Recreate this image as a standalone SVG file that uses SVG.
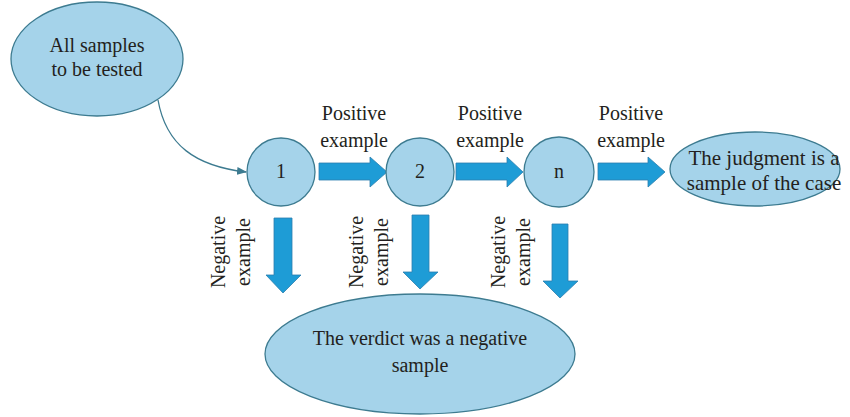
<svg xmlns="http://www.w3.org/2000/svg" width="850" height="417" viewBox="0 0 850 417">
<style>
.node{fill:#a5d3ea;stroke:#3d7b90;stroke-width:1.3}
.blk{fill:#1e9cd6;stroke:#2b7fae;stroke-width:0.8}
text{font-family:"Liberation Serif","Times New Roman",serif;font-size:20px;fill:#231f20}
.c{text-anchor:middle}
</style>
<defs>
<marker id="ah" markerWidth="10" markerHeight="10" refX="9" refY="5" orient="auto" markerUnits="userSpaceOnUse">
<path d="M0,1 L10,5 L0,9 z" fill="#3d7b90"/>
</marker>
</defs>
<rect width="850" height="417" fill="#ffffff"/>
<g id="connectors">
<path d="M158,100 C166,145 195,166 246,172" fill="none" stroke="#3d7b90" stroke-width="1.3" marker-end="url(#ah)"/>
<path class="blk" d="M319,163 H370 V157 L387,172 L370,187 V180 H319 Z"/>
<path class="blk" d="M456,163 H507 V157 L523,172 L507,187 V180 H456 Z"/>
<path class="blk" d="M598,163 H648 V157 L665,172 L648,187 V180 H598 Z"/>
<path class="blk" d="M274,218 H292 V275 H301 L283,293 L266,275 H274 Z"/>
<path class="blk" d="M412,215 H429 V272 H438 L420,289 L403,272 H412 Z"/>
<path class="blk" d="M552,224 H568 V281 H578 L560,298 L543,281 H552 Z"/>
<text class="c" x="354" y="120">Positive</text>
<text class="c" x="354" y="147">example</text>
<text class="c" x="490" y="120">Positive</text>
<text class="c" x="490" y="147">example</text>
<text class="c" x="631" y="120">Positive</text>
<text class="c" x="631" y="147">example</text>
<text class="c" transform="translate(225,252) rotate(-90)">Negative</text>
<text class="c" transform="translate(250,252) rotate(-90)">example</text>
<text class="c" transform="translate(363,252) rotate(-90)">Negative</text>
<text class="c" transform="translate(388,252) rotate(-90)">example</text>
<text class="c" transform="translate(505,252) rotate(-90)">Negative</text>
<text class="c" transform="translate(530,252) rotate(-90)">example</text>
</g>
<g id="start">
<ellipse class="node" cx="97" cy="59" rx="86" ry="57"/>
<text class="c" x="97" y="52">All samples</text>
<text class="c" x="97" y="76">to be tested</text>
</g>
<g id="n1">
<circle class="node" cx="281" cy="172" r="34"/>
<text class="c" x="281" y="178">1</text>
</g>
<g id="n2">
<circle class="node" cx="420" cy="172" r="34"/>
<text class="c" x="420" y="178">2</text>
</g>
<g id="nn">
<circle class="node" cx="559" cy="172" r="35"/>
<text class="c" x="559" y="178">n</text>
</g>
<g id="positive">
<ellipse class="node" cx="755" cy="169" rx="85" ry="37"/>
<text class="c" x="764" y="165" style="font-size:21px">The judgment is a</text>
<text class="c" x="764" y="190" style="font-size:21px">sample of the case</text>
</g>
<g id="negative">
<ellipse class="node" cx="420" cy="354" rx="155" ry="60"/>
<text class="c" x="420" y="345">The verdict was a negative</text>
<text class="c" x="420" y="372">sample</text>
</g>
</svg>
